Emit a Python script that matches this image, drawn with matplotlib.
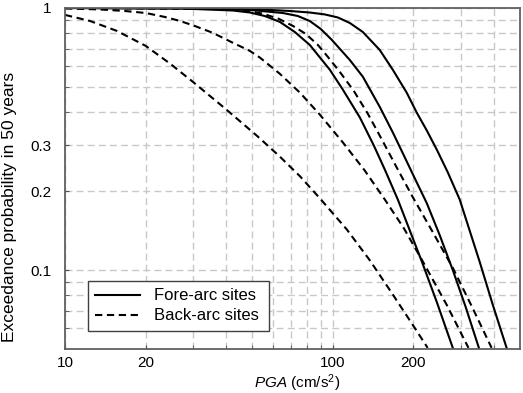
import matplotlib
matplotlib.use("Agg")
import matplotlib.pyplot as plt
from matplotlib.ticker import FixedLocator, NullFormatter, FixedFormatter

plt.rcParams['font.family'] = ['Liberation Sans', 'DejaVu Sans']
plt.rcParams['mathtext.fontset'] = 'custom'
plt.rcParams['mathtext.rm'] = 'Liberation Sans'
plt.rcParams['mathtext.it'] = 'Liberation Sans:italic'

# fore-arc sites (solid)
fore_pga_1 = [10, 26.9, 42.4, 49, 55.7, 63.4, 72.1, 82, 97.5, 109, 126.2, 142.2, 156.3, 174.8, 214.8, 244.5, 280.5]
fore_prob_1 = [1.0, 0.996, 0.978, 0.961, 0.932, 0.885, 0.810, 0.723, 0.581, 0.488, 0.382, 0.299, 0.242, 0.186, 0.108, 0.0755, 0.0505]
fore_pga_2 = [10, 31.9, 49, 65, 74, 82, 90.1, 99.1, 115.6, 129.4, 149.6, 167.5, 185.7, 204, 224.3, 250.6, 280.5, 313.4, 351]
fore_prob_2 = [1.0, 0.996, 0.983, 0.957, 0.932, 0.892, 0.832, 0.756, 0.634, 0.547, 0.420, 0.335, 0.269, 0.220, 0.180, 0.136, 0.100, 0.0723, 0.0505]
fore_pga_3 = [10, 31.9, 53.4, 69.1, 82, 93.3, 104.4, 115.6, 129.4, 149.6, 167.5, 188.8, 205.7, 224.3, 244.5, 268.7, 297.6, 354, 395, 445.5]
fore_prob_3 = [1.0, 0.998, 0.987, 0.974, 0.961, 0.945, 0.920, 0.877, 0.810, 0.692, 0.581, 0.475, 0.399, 0.341, 0.288, 0.236, 0.186, 0.107, 0.0741, 0.0505]

# back-arc sites (dashed)
back_pga_1 = [10, 12.4, 15.6, 20, 24.7, 30, 40, 52.5, 63.4, 75.4, 89.4, 112.7, 137.4, 166, 199, 226]
back_prob_1 = [0.941, 0.892, 0.818, 0.717, 0.613, 0.523, 0.41, 0.323, 0.271, 0.228, 0.188, 0.143, 0.109, 0.0818, 0.0617, 0.0505]
back_pga_2 = [10, 13.5, 16.7, 20, 23.6, 26.9, 30.5, 35.6, 42.4, 49, 53.5, 63.4, 75.4, 89.4, 109, 131.5, 156.3, 184.1, 216.6, 266, 321]
back_prob_2 = [0.996, 0.987, 0.974, 0.957, 0.924, 0.892, 0.854, 0.804, 0.736, 0.686, 0.646, 0.561, 0.475, 0.392, 0.307, 0.240, 0.186, 0.1445, 0.108, 0.0738, 0.0505]
back_pga_3 = [10, 37.8, 47, 54.3, 62.4, 71, 79.3, 87.9, 95.8, 106.1, 119.7, 135.1, 152.4, 173.3, 199, 236.2, 280.5, 332.5, 391.6]
back_prob_3 = [1.0, 0.991, 0.978, 0.953, 0.912, 0.854, 0.796, 0.723, 0.651, 0.571, 0.483, 0.395, 0.315, 0.246, 0.1896, 0.1395, 0.102, 0.0717, 0.0505]

fig = plt.figure(figsize=(5.23, 3.93), dpi=100)
ax = fig.add_axes([0.1243, 0.112, 0.870, 0.8677])

ls_dash = (0, (3.5, 2.2))
ax.plot(fore_pga_1, fore_prob_1, color='black', lw=1.5, label='Fore-arc sites')
ax.plot(back_pga_1, back_prob_1, color='black', lw=1.5, ls=ls_dash, label='Back-arc sites')
ax.plot(fore_pga_2, fore_prob_2, color='black', lw=1.5)
ax.plot(fore_pga_3, fore_prob_3, color='black', lw=1.5)
ax.plot(back_pga_2, back_prob_2, color='black', lw=1.5, ls=ls_dash)
ax.plot(back_pga_3, back_prob_3, color='black', lw=1.5, ls=ls_dash)

ax.set_xscale('log')
ax.set_yscale('log')
ax.set_xlim(10, 500)
ax.set_ylim(0.05, 1.0)

xmaj = [10, 20, 100, 200]
xmin = [30, 40, 50, 60, 70, 80, 90, 300, 400]
ymaj = [0.1, 0.2, 0.3, 1]
ymin = [0.06, 0.07, 0.08, 0.09, 0.4, 0.5, 0.6, 0.7, 0.8, 0.9]
ax.xaxis.set_major_locator(FixedLocator(xmaj))
ax.xaxis.set_major_formatter(FixedFormatter(['10', '20', '100', '200']))
ax.xaxis.set_minor_locator(FixedLocator(xmin))
ax.xaxis.set_minor_formatter(NullFormatter())
ax.yaxis.set_major_locator(FixedLocator(ymaj))
ax.yaxis.set_major_formatter(FixedFormatter(['0.1', '0.2', '0.3', '1']))
ax.yaxis.set_minor_locator(FixedLocator(ymin))
ax.yaxis.set_minor_formatter(NullFormatter())

ax.grid(True, which='both', color='#c8c8c8', ls=(0, (5, 3)), lw=1.0)
ax.set_axisbelow(True)
ax.tick_params(which='both', direction='in', length=3, color='#505050', labelsize=11)
ax.tick_params(axis='y', pad=10)
ax.tick_params(axis='x', pad=5)
for s in ax.spines.values():
    s.set_color('#606060')
    s.set_linewidth(1.3)

ax.set_xlabel(r'$\mathit{PGA}$ (cm/s$^2$)', fontsize=11)
ax.xaxis.set_label_coords(0.51, -0.07)
ax.set_ylabel('Exceedance probability in 50 years', fontsize=12.5)
ax.yaxis.set_label_coords(-0.105, 0.416)

leg = ax.legend(loc='lower left', bbox_to_anchor=(0.05, 0.053, 0.398, 0.158), mode='expand',
                fontsize=12, handlelength=2.7, handletextpad=0.8, borderaxespad=0,
                fancybox=False, framealpha=1, labelspacing=0.3, borderpad=0.45)
leg.get_frame().set_edgecolor('#404040')
leg.get_frame().set_linewidth(1.0)

fig.savefig('out.png', dpi=100)
